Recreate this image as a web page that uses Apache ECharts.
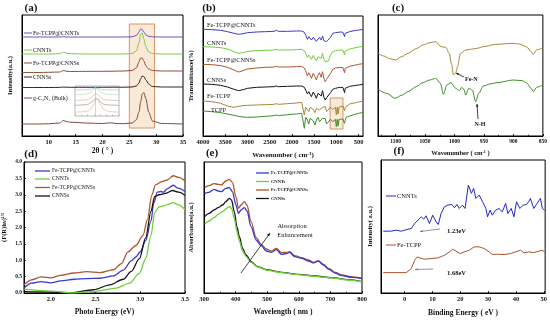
<!DOCTYPE html>
<html><head><meta charset="utf-8">
<script src="https://cdn.jsdelivr.net/npm/echarts@6/dist/echarts.min.js"></script>
<style>html,body{margin:0;padding:0;background:#fff}#c{width:550px;height:320px}</style>
</head><body><div id="c"></div>
<script>
const FONT = 'Liberation Serif';

// ---------- (a) XRD ----------
const xrdX = [5, 8, 10, 12, 12.8, 13.2, 14, 17, 20, 22, 24, 25.5, 26.3, 26.8, 27.1, 27.4, 27.7, 28.1, 28.6, 29.3, 31, 35];
const xrdFeCNNTs = [99, 99, 99, 99, 99.3, 99, 99, 99, 99, 99, 99, 99.2, 100.5, 104, 107, 106.5, 104, 101, 99.7, 99.2, 99, 99];
const xrdCNNTs = [82, 82, 82, 82.3, 83.8, 82.8, 82.3, 82, 82, 82, 82, 82.5, 85, 93, 102, 103, 97, 89, 84, 82.5, 82, 82];
const xrdFeCNNSs = [63.5, 63.5, 63.7, 64, 65.5, 64.8, 64.5, 64.6, 64.7, 64.8, 65, 65.5, 68, 74, 78, 78, 75, 70, 67, 65.5, 65, 65];
const xrdCNNSs = [48.5, 48.5, 48.5, 48.6, 49, 48.8, 48.7, 48.7, 48.7, 48.8, 48.8, 49, 50, 53, 57, 60, 59.5, 56, 52, 49.5, 49, 49];
const xrdBulkX = [5, 8, 10, 12, 12.7, 13.3, 14, 17, 20, 21.5, 22.5, 24, 25.5, 26.3, 26.8, 27.1, 27.4, 27.7, 28.1, 28.6, 29.3, 31, 35];
const xrdBulk = [12, 12, 12.2, 13, 15.5, 14.5, 13.8, 13, 12.5, 13.2, 12.5, 12.3, 13, 16, 24, 34, 42, 43.5, 37, 24, 15, 12.5, 12];
const xrdTicks = [10, 15, 20, 25, 30, 35];
// inset
const insetX = [24, 25, 26, 26.6, 27, 27.3, 27.6, 28, 28.6, 29.5, 31];
const inset1 = [27, 27, 27.2, 27.8, 28.6, 29, 28.6, 27.8, 27.2, 27, 27];
const inset2 = [22, 22.2, 23, 25, 27.5, 29, 27.5, 25, 23, 22.2, 22];
const inset3 = [16, 16.3, 17, 19, 21.5, 23.5, 22, 19.5, 17, 16.3, 16];
const inset4 = [11, 11.3, 12, 14, 16.5, 18.5, 17.5, 14.5, 12, 11.3, 11];
const inset5 = [4, 4.3, 5, 7.5, 12, 17, 18, 12, 6.5, 4.5, 4];

// ---------- (b) FTIR ----------
const ftirX = [4000, 3800, 3600, 3450, 3300, 3200, 3100, 3000, 2800, 2600, 2400, 2350, 2300, 2100, 1900, 1780, 1720, 1690, 1650, 1620, 1590, 1560, 1520, 1480, 1450, 1410, 1380, 1340, 1310, 1280, 1250, 1220, 1180, 1130, 1080, 1020, 1000, 980, 960, 940, 900, 850, 815, 800, 780, 700, 600, 500, 400];
const ftirFeCNNTs = [320, 319, 317, 313, 308, 305, 307, 310, 312, 313, 314, 317, 314, 314, 315, 315, 311, 303, 290, 298, 293, 288, 296, 290, 284, 290, 296, 288, 300, 286, 280, 283, 278, 296, 308, 310, 310, 311, 311, 311, 312, 311, 298, 308, 312, 313, 316, 318, 320];
const ftirCNNTs = [268, 267, 265, 261, 253, 248, 250, 254, 256, 257, 258, 260, 258, 258, 259, 260, 256, 248, 236, 243, 238, 230, 242, 233, 226, 238, 243, 233, 248, 230, 223, 228, 225, 243, 253, 256, 256, 257, 257, 257, 258, 257, 243, 255, 258, 261, 264, 267, 269];
const ftirFeCNNSs = [215, 214, 211, 206, 198, 192, 196, 201, 204, 206, 207, 209, 207, 207, 208, 209, 204, 196, 180, 190, 183, 173, 188, 178, 168, 183, 190, 176, 193, 173, 163, 170, 166, 188, 200, 204, 204, 205, 205, 205, 206, 205, 190, 203, 206, 209, 212, 215, 217];
const ftirCNNSs = [156, 155, 152, 147, 140, 136, 139, 143, 146, 147, 148, 150, 148, 149, 150, 150, 146, 138, 126, 133, 128, 118, 132, 123, 113, 128, 133, 120, 136, 116, 108, 115, 112, 130, 140, 143, 144, 144, 145, 145, 146, 145, 130, 143, 146, 149, 151, 153, 155];
const ftirFeTCPP = [105, 103, 98, 90, 86, 89, 91, 92, 93, 94, 95, 97, 95, 97, 99, 101, 63, 86, 83, 73, 86, 90, 80, 70, 83, 88, 78, 75, 86, 90, 88, 73, 68, 86, 80, 86, 63, 86, 66, 86, 86, 90, 76, 86, 92, 96, 99, 102, 105];
const ftirTCPP = [75, 73, 70, 66, 62, 59, 57, 56, 57, 59, 61, 63, 61, 64, 66, 68, 23, 56, 48, 36, 53, 58, 46, 33, 48, 56, 43, 38, 53, 56, 52, 36, 30, 50, 43, 50, 28, 50, 30, 50, 48, 51, 38, 48, 56, 60, 64, 68, 71];
const ftirTicks = [4000, 3500, 3000, 2500, 2000, 1500, 1000, 500];

// ---------- (c) FTIR zoom ----------
const cTopX = [1130, 1120, 1110, 1100, 1090, 1079, 1065, 1054, 1042, 1032, 1023, 1015, 1009, 1005, 1002, 998, 995, 990, 981, 973, 962, 951, 930, 900, 890, 878, 870, 866, 861, 850];
const cFeTCPP = [248, 240, 232, 228, 238, 248, 262, 273, 280, 283, 268, 266, 248, 215, 183, 190, 208, 248, 258, 260, 263, 268, 275, 278, 276, 268, 253, 245, 258, 265];
const cBotX = [1130, 1115, 1101, 1090, 1079, 1065, 1054, 1042, 1032, 1024, 1019, 1013, 1006, 998, 992, 988, 984, 981, 976, 970, 964, 959, 951, 940, 928, 900, 885, 878, 870, 866, 861, 850];
const cTCPP = [140, 128, 113, 122, 133, 148, 160, 168, 173, 158, 125, 153, 160, 143, 136, 146, 140, 123, 143, 138, 103, 128, 150, 156, 160, 168, 166, 160, 143, 133, 146, 153];

// ---------- (d) Tauc ----------
const dFeCNNTsX = [1.7, 1.785, 1.89, 2.0, 2.11, 2.26, 2.4, 2.55, 2.7, 2.81, 2.9, 2.95, 3.0, 3.06, 3.12, 3.15, 3.19, 3.23, 3.26, 3.3, 3.37, 3.42, 3.5];
const dFeCNNTs = [0.15, 0.30, 0.35, 0.31, 0.37, 0.42, 0.44, 0.45, 0.52, 0.70, 0.98, 1.1, 1.26, 1.6, 2.2, 2.75, 3.08, 3.1, 3.08, 3.18, 3.29, 3.2, 3.1];
const dCNNTsX = [1.7, 2.0, 2.26, 2.5, 2.73, 2.88, 2.99, 3.06, 3.12, 3.16, 3.21, 3.26, 3.3, 3.37, 3.42, 3.5];
const dCNNTs = [0.12, 0.06, 0.0, 0.05, 0.15, 0.3, 0.6, 1.05, 1.75, 2.45, 2.63, 2.66, 2.7, 2.76, 2.7, 2.55];
const dFeCNNSsX = [1.7, 1.785, 1.89, 2.0, 2.11, 2.26, 2.4, 2.55, 2.7, 2.79, 2.86, 2.95, 3.03, 3.08, 3.13, 3.17, 3.24, 3.3, 3.37, 3.43, 3.5];
const dFeCNNSs = [0.25, 0.4, 0.49, 0.46, 0.54, 0.61, 0.65, 0.62, 0.71, 0.9, 1.25, 1.45, 1.75, 2.25, 3.0, 3.3, 3.4, 3.45, 3.58, 3.53, 3.42];
const dCNNSsX = [1.7, 2.0, 2.2, 2.48, 2.66, 2.81, 2.9, 2.99, 3.06, 3.12, 3.16, 3.21, 3.28, 3.36, 3.43, 3.5];
const dCNNSs = [0.04, 0.03, 0.0, 0.1, 0.25, 0.42, 0.66, 1.05, 1.68, 2.5, 2.94, 3.0, 3.04, 3.13, 3.08, 2.98];
const dTicks = [2.0, 2.5, 3.0, 3.5];

// ---------- (e) UV-vis ----------
const eFeX = [302, 316, 332, 345, 355, 369, 380, 390, 401, 409, 417, 428, 436, 449, 465, 481, 497, 513, 529, 545, 561, 571, 587, 609, 630, 646, 662, 678, 694, 715, 736, 768, 800];
const eFeCNNSs = [317, 322, 328, 326, 324, 336, 341, 332, 289, 254, 264, 274, 264, 214, 166, 146, 132, 126, 134, 121, 122, 124, 112, 106, 99, 92, 96, 86, 74, 62, 54, 48, 44];
const eFeCNNTs = [299, 302, 311, 306, 304, 314, 316, 304, 264, 239, 249, 256, 246, 199, 159, 142, 126, 122, 130, 116, 118, 122, 109, 104, 96, 90, 96, 84, 72, 60, 52, 47, 44];
const eCNX = [302, 316, 332, 345, 359, 369, 380, 387, 396, 404, 412, 422, 433, 449, 470, 502, 545, 598, 651, 704, 758, 800];
const eCNNSs = [229, 239, 249, 256, 264, 274, 284, 279, 244, 199, 169, 134, 114, 94, 79, 69, 62, 56, 51, 46, 40, 34];
const eCNNTs = [206, 216, 226, 236, 244, 252, 259, 254, 224, 184, 156, 126, 109, 92, 78, 68, 61, 55, 50, 45, 39, 33];

// ---------- (f) VB-XPS ----------
const fCNNTsX = [-7.7, -5, -3, -2.4, -1.2, 0, 1.2, 2.4, 3.6, 4.8, 6, 6.9, 7.7, 8.9, 10.1, 11.3, 12.1, 13.1, 14.3, 15.5, 16.9, 17.9, 18.8, 19.6, 20.8, 21.7, 22.9, 24, 24.8, 25.6, 26.8, 28, 29.2, 29.8, 30.7, 31.5, 32.7, 33.9, 35.1, 36.3, 37.1, 38.3, 39.3, 40.2, 41.4, 42.6, 43.8, 44.6, 45.2, 46.4, 47.6, 48.8, 49.5, 50.3];
const fCNNTs = [185, 185, 188, 186, 185, 188, 191, 193, 208, 218, 228, 221, 231, 208, 233, 213, 205, 238, 258, 263, 265, 255, 265, 253, 263, 253, 323, 298, 313, 283, 293, 273, 253, 228, 248, 233, 248, 253, 243, 268, 238, 253, 228, 273, 253, 263, 265, 273, 283, 253, 268, 283, 253, 248];
const fFeX = [-7.7, 0.6, 1.2, 2.4, 3.6, 4.5, 5.4, 7.1, 9.5, 11.9, 14.3, 16.1, 17.3, 18.5, 20, 21.4, 23.2, 25, 26.8, 28.6, 30.4, 31.5, 33.3, 35.7, 38.1, 40.5, 41.7, 42.9, 44.6, 46.4, 48.2, 49.4, 50.3];
const fFeTCPP = [61, 61, 63, 73, 98, 108, 105, 101, 103, 105, 113, 123, 131, 125, 118, 123, 128, 138, 138, 133, 123, 115, 116, 115, 118, 125, 128, 120, 123, 121, 125, 128, 123];
const fTicks = [0, 10, 20, 30, 40, 50];

// ---------- helpers ----------
const zip = (xs, ys) => xs.map((x, i) => [x, ys[i]]);
const C = {
  blue: '#3a3ad0', green: '#6fd03a', brown: '#b0542e', black: '#151515',
  olive: '#a8883a', dgreen: '#3d8f2a', aBlue: '#5a5ac0', aGreen: '#78cc48',
  aBrown: '#8e4e30', aBlack: '#302424', aBulk: '#7e4a38'
};
const plain = v => String(v);
const lab = (size, extra) => Object.assign({fontFamily: FONT, fontSize: size, fontWeight: 'bold', color: '#111', margin: 3, formatter: plain}, extra || {});
const nameSt = (size) => ({fontFamily: FONT, fontSize: size, fontWeight: 'bold', color: '#111',
  rich: {s: {fontFamily: FONT, fontSize: Math.round(size * 0.65), fontWeight: 'bold', color: '#111', padding: [0, 0, Math.round(size * 0.45), 0]}}});
const axLine = {show: true, onZero: false, lineStyle: {color: '#000', width: 1}};
const tick = (len) => ({show: true, inside: true, length: len || 2, lineStyle: {color: '#000', width: 0.8}});

function line(xi, data, color, w, smooth, extra) {
  return Object.assign({type: 'line', xAxisIndex: xi, yAxisIndex: xi, data: data, symbol: 'none',
    lineStyle: {color: color, width: w}, itemStyle: {color: color}, smooth: smooth ? 0.3 : false,
    smoothMonotone: 'x', animation: false, silent: true}, extra || {});
}
function txt(x, y, s, size, o) {
  o = o || {};
  return {type: 'text', x: x, y: y, z: 100, silent: true, style: {text: s,
    font: (o.bold ? 'bold ' : '') + size + 'px ' + FONT, fill: o.color || '#151515',
    align: o.align || 'left', verticalAlign: o.va || 'middle'}};
}
function seg(x1, y1, x2, y2, color, w) {
  return {type: 'line', z: 100, silent: true, shape: {x1: x1, y1: y1, x2: x2, y2: y2}, style: {stroke: color, lineWidth: w || 1}};
}
function arrow(x1, y1, x2, y2, color, w, hl) {
  hl = hl || 4;
  const a = Math.atan2(y2 - y1, x2 - x1);
  const p1 = [x2 - hl * Math.cos(a - 0.4), y2 - hl * Math.sin(a - 0.4)];
  const p2 = [x2 - hl * Math.cos(a + 0.4), y2 - hl * Math.sin(a + 0.4)];
  return [seg(x1, y1, x2, y2, color, w), {type: 'polygon', z: 100, silent: true, shape: {points: [[x2, y2], p1, p2]}, style: {fill: color}}];
}

const gridBase = {show: true, borderColor: '#000', borderWidth: 1, backgroundColor: 'transparent', containLabel: false};
const grids = [
  Object.assign({left: 22, top: 15, width: 161, height: 121}, gridBase),   // a
  Object.assign({left: 75, top: 86, width: 44, height: 30}, gridBase, {borderColor: '#a8a8a8', borderWidth: 0.8}), // inset
  Object.assign({left: 203, top: 16, width: 160, height: 120}, gridBase),  // b
  Object.assign({left: 378, top: 15, width: 167, height: 121}, gridBase),  // c
  Object.assign({left: 22, top: 162, width: 163, height: 131}, gridBase),  // d
  Object.assign({left: 204, top: 162, width: 158, height: 131}, gridBase), // e
  Object.assign({left: 381, top: 160, width: 166, height: 133}, gridBase)  // f
];

const xAxes = [
  {gridIndex: 0, type: 'value', min: 5, max: 35, axisLine: axLine, axisTick: Object.assign(tick(2), {customValues: xrdTicks}),
   axisLabel: lab(6.5, {customValues: xrdTicks}), splitLine: {show: false},
   name: '2θ ( ° )', nameLocation: 'middle', nameGap: 11, nameTextStyle: nameSt(7.5)},
  {gridIndex: 1, type: 'value', min: 24, max: 31, axisLine: {show: false}, axisTick: {show: true, inside: true, length: 1.5, lineStyle: {color: '#999', width: 0.6}},
   axisLabel: {show: false}, splitLine: {show: false}},
  {gridIndex: 2, type: 'value', min: 400, max: 4000, inverse: true, axisLine: axLine,
   axisTick: Object.assign(tick(2), {customValues: ftirTicks}), axisLabel: lab(6.5, {customValues: ftirTicks}), splitLine: {show: false},
   name: 'Wavenumber ( cm{s|-1})', nameLocation: 'middle', nameGap: 15, nameTextStyle: nameSt(7)},
  {gridIndex: 3, type: 'value', min: 850, max: 1130, interval: 50, inverse: true, axisLine: axLine,
   axisTick: tick(2), minorTick: {show: true, splitNumber: 2, length: 1.5, lineStyle: {color: '#000', width: 0.6}},
   axisLabel: lab(5.5, {showMinLabel: true, showMaxLabel: false}), splitLine: {show: false},
   name: 'Wavenumber ( cm{s|-1} )', nameLocation: 'middle', nameGap: 14, nameTextStyle: nameSt(6.5)},
  {gridIndex: 4, type: 'value', min: 1.7, max: 3.5, axisLine: axLine,
   axisTick: Object.assign(tick(2), {customValues: dTicks}),
   axisLabel: lab(6.5, {customValues: dTicks, formatter: v => v.toFixed(1)}), splitLine: {show: false},
   name: 'Photo Energy (eV)', nameLocation: 'middle', nameGap: 15, nameTextStyle: nameSt(7.5)},
  {gridIndex: 5, type: 'value', min: 300, max: 800, interval: 100, axisLine: axLine,
   axisTick: tick(2), minorTick: {show: true, splitNumber: 2, length: 1.5, lineStyle: {color: '#000', width: 0.6}},
   axisLabel: lab(6.5), splitLine: {show: false},
   name: 'Wavelength ( nm )', nameLocation: 'middle', nameGap: 15, nameTextStyle: nameSt(7.5)},
  {gridIndex: 6, type: 'value', min: -8.5, max: 50.5, axisLine: axLine,
   axisTick: Object.assign(tick(2), {customValues: fTicks}), axisLabel: lab(6.5, {customValues: fTicks}), splitLine: {show: false},
   name: 'Binding Energy ( eV )', nameLocation: 'middle', nameGap: 16, nameTextStyle: nameSt(7.5)}
];
const yBase = (gi, min, max) => ({gridIndex: gi, type: 'value', min: min, max: max, axisLine: axLine, axisTick: {show: false},
  axisLabel: {show: false}, splitLine: {show: false}});
const yAxes = [
  Object.assign(yBase(0, 0, 121), {name: 'Intensity(a.u.)', nameLocation: 'middle', nameGap: 8, nameTextStyle: nameSt(6.5)}),
  Object.assign(yBase(1, 0, 31), {axisLine: {show: false}}),
  Object.assign(yBase(2, 0, 360), {name: 'Transmittance(%)', nameLocation: 'middle', nameGap: 8, nameTextStyle: nameSt(6.5)}),
  yBase(3, 0, 363),
  Object.assign(yBase(4, 0, 4), {interval: 0.5, axisTick: tick(2), axisLabel: lab(5.5, {formatter: v => v.toFixed(1), margin: 2}),
    name: '(F(R)hν){s|1/2}', nameLocation: 'middle', nameGap: 16, nameTextStyle: nameSt(6.5)}),
  Object.assign(yBase(5, 0, 393), {name: 'Absorbances(a.u.)', nameLocation: 'middle', nameGap: 9, nameTextStyle: nameSt(6.5)}),
  Object.assign(yBase(6, 0, 398), {name: 'Intensity( a.u.)', nameLocation: 'middle', nameGap: 7, nameTextStyle: nameSt(6.5)})
];

const series = [
  // (a)
  line(0, zip(xrdX, xrdFeCNNTs), C.aBlue, 1, true, {name: 'Fe-TCPP@CNNTs',
    markArea: {silent: true, itemStyle: {color: 'rgba(243,196,150,0.38)', borderColor: '#d89468', borderWidth: 1},
      data: [[{coord: [25, 8]}, {coord: [29.7, 112]}]]}}),
  line(0, zip(xrdX, xrdCNNTs), C.aGreen, 1, true, {name: 'CNNTs'}),
  line(0, zip(xrdX, xrdFeCNNSs), C.aBrown, 1, true, {name: 'Fe-TCPP@CNNSs'}),
  line(0, zip(xrdX, xrdCNNSs), C.aBlack, 1, true, {name: 'CNNSs'}),
  line(0, zip(xrdBulkX, xrdBulk), C.aBulk, 1, true, {name: 'g-C3N4 (Bulk)'}),
  // inset
  line(1, zip(insetX, inset1), '#a5aed8', 0.6, true, {markLine: {silent: true, symbol: 'none', label: {show: false},
    lineStyle: {color: '#aaa', width: 0.5, type: 'solid'}, data: [{xAxis: 27.3}]}}),
  line(1, zip(insetX, inset2), '#a8dc9a', 0.6, true),
  line(1, zip(insetX, inset3), '#d4a890', 0.6, true),
  line(1, zip(insetX, inset4), '#888', 0.6, true),
  line(1, zip(insetX, inset5), '#e0b088', 0.6, true),
  // (b)
  line(2, zip(ftirX, ftirFeCNNTs), C.blue, 1, false, {name: 'Fe-TCPP@CNNTs'}),
  line(2, zip(ftirX, ftirCNNTs), C.green, 1, false, {name: 'CNNTs'}),
  line(2, zip(ftirX, ftirFeCNNSs), C.brown, 1, false, {name: 'Fe-TCPP@CNNSs'}),
  line(2, zip(ftirX, ftirCNNSs), C.black, 1, false, {name: 'CNNSs'}),
  line(2, zip(ftirX, ftirFeTCPP), C.olive, 1, false, {name: 'Fe-TCPP',
    markArea: {silent: true, itemStyle: {color: 'rgba(243,196,150,0.38)', borderColor: '#d89468', borderWidth: 1},
      data: [[{coord: [1140, 21]}, {coord: [850, 114]}]]}}),
  line(2, zip(ftirX, ftirTCPP), C.dgreen, 1, false, {name: 'TCPP'}),
  // (c)
  line(3, zip(cTopX, cFeTCPP), C.olive, 1, true, {name: 'Fe-TCPP'}),
  line(3, zip(cBotX, cTCPP), C.dgreen, 1, true, {name: 'TCPP'}),
  // (d)
  line(4, zip(dFeCNNSsX, dFeCNNSs), C.brown, 1.3, true, {name: 'Fe-TCPP@CNNSs'}),
  line(4, zip(dFeCNNTsX, dFeCNNTs), C.blue, 1.3, true, {name: 'Fe-TCPP@CNNTs'}),
  line(4, zip(dCNNSsX, dCNNSs), C.black, 1.3, true, {name: 'CNNSs'}),
  line(4, zip(dCNNTsX, dCNNTs), C.green, 1.3, true, {name: 'CNNTs'}),
  // (e)
  line(5, zip(eFeX, eFeCNNSs), C.brown, 1.3, true, {name: 'Fe-TCPP@CNNSs'}),
  line(5, zip(eFeX, eFeCNNTs), C.blue, 1.3, true, {name: 'Fe-TCPP@CNNTs'}),
  line(5, zip(eCNX, eCNNSs), C.black, 1.3, true, {name: 'CNNSs'}),
  line(5, zip(eCNX, eCNNTs), C.green, 1.3, true, {name: 'CNNTs'}),
  // (f)
  line(6, zip(fCNNTsX, fCNNTs), '#2626c8', 1, false, {name: 'CNNTs'}),
  line(6, zip(fFeX, fFeTCPP), '#a8542e', 1, false, {name: 'Fe-TCPP'})
];

const g = [
  // panel titles
  txt(31, 8, '(a)', 11, {bold: true, align: 'center'}),
  txt(209, 8, '(b)', 11, {bold: true, align: 'center'}),
  txt(398, 8, '(c)', 11, {bold: true, align: 'center'}),
  txt(31, 154, '(d)', 11, {bold: true, align: 'center'}),
  txt(212, 153, '(e)', 11, {bold: true, align: 'center'}),
  txt(399, 151, '(f)', 11, {bold: true, align: 'center'}),
  // (a) labels
  seg(24, 33, 32, 33, C.aBlue, 1), txt(33, 33, 'Fe-TCPP@CNNTs', 6),
  seg(24, 50, 32, 50, C.aGreen, 1), txt(33, 50, 'CNNTs', 6),
  seg(24, 63, 32, 63, C.aBrown, 1), txt(33, 63, 'Fe-TCPP@CNNSs', 6),
  seg(24, 77, 32, 77, C.aBlack, 1), txt(33, 77, 'CNNSs', 6),
  seg(24, 98, 32, 98, C.aBulk, 1), txt(33, 98, 'g-C₃N₄ (Bulk)', 6),
  // (b) labels
  txt(207, 25, 'Fe-TCPP@CNNTs', 6.3), txt(207, 43, 'CNNTs', 6.3), txt(207, 60, 'Fe-TCPP@CNNSs', 6.3),
  txt(207, 80, 'CNNSs', 6.3), txt(207, 96, 'Fe-TCPP', 6.3), txt(211, 110, 'TCPP', 6.3),
  // (c) annotations
  ...arrow(464, 77, 456, 73, '#111', 0.8, 3), txt(465, 79, 'Fe-N', 6, {bold: true}),
  ...arrow(478, 119, 477, 104, '#111', 0.8, 3), txt(480, 124, 'N-H', 6, {bold: true, align: 'center'}),
  // (d) legend
  seg(35, 171, 50, 171, C.blue, 1.3), txt(52, 171, 'Fe-TCPP@CNNTs', 5.6),
  seg(35, 179, 50, 179, C.green, 1.3), txt(52, 179, 'CNNTs', 5.6),
  seg(35, 187.5, 50, 187.5, C.brown, 1.3), txt(52, 187.5, 'Fe-TCPP@CNNSs', 5.6),
  seg(35, 196, 50, 196, C.black, 1.3), txt(52, 196, 'CNNSs', 5.6),
  // (e) legend
  seg(256, 173, 269, 173, C.blue, 1.3), txt(271, 173, 'Fe-TCPP@CNNTs', 4.6, {bold: true}),
  seg(256, 181.5, 269, 181.5, C.green, 1.3), txt(271, 181.5, 'CNNTs', 4.6, {bold: true}),
  seg(256, 190, 269, 190, C.brown, 1.3), txt(271, 190, 'Fe-TCPP@CNNSs', 4.6, {bold: true}),
  seg(256, 198.5, 269, 198.5, C.black, 1.3), txt(271, 198.5, 'CNNSs', 4.6, {bold: true}),
  // (e) annotation
  ...arrow(241, 273, 270, 233, '#111', 0.8, 3.5),
  txt(292, 226, 'Absorption', 6.5, {align: 'center'}), txt(295, 235, 'Enhancement', 6.5, {align: 'center'}),
  // (f) labels
  seg(386, 196, 396, 196, '#2626c8', 1), txt(397, 196, 'CNNTs', 6.5),
  seg(386, 245, 396, 245, '#a8542e', 1), txt(397, 245, 'Fe-TCPP', 6.5),
  ...arrow(440, 229, 420, 231.5, '#777', 0.8, 3), txt(447, 231, '1.23eV', 6.5, {bold: true}),
  ...arrow(433, 269, 415, 269.5, '#777', 0.8, 3), txt(447, 273, '1.68eV', 6.5, {bold: true})
];

const chart = echarts.init(document.getElementById('c'), null, {renderer: 'canvas', width: 550, height: 320});
chart.setOption({
  animation: false,
  backgroundColor: '#fff',
  textStyle: {fontFamily: FONT},
  grid: grids, xAxis: xAxes, yAxis: yAxes, series: series, graphic: g
});
</script></body></html>
